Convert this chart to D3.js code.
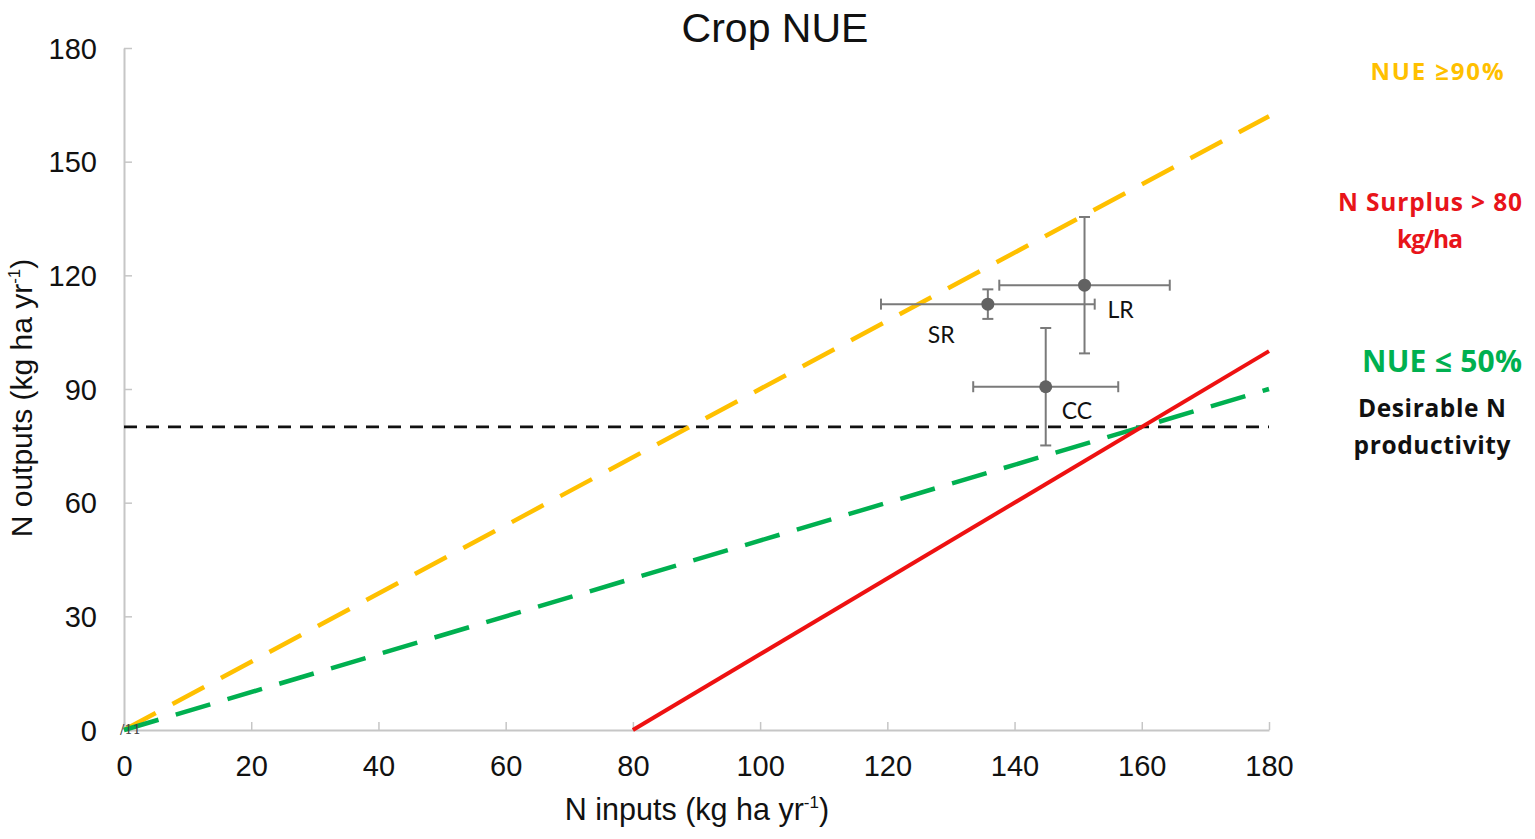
<!DOCTYPE html>
<html><head><meta charset="utf-8">
<script src="https://cdn.jsdelivr.net/npm/d3@7/dist/d3.min.js"></script>
<style>body{margin:0;background:#fff}svg{display:block}</style>
</head><body>
<svg id="c" width="1535" height="839"></svg>
<script>
// ---- data ----
const xTicks = [0,20,40,60,80,100,120,140,160,180];
const yTicks = [0,30,60,90,120,150,180];
const nueHigh = [[0,0],[180,162]];          // NUE >= 90%
const nueLow = [[0,0],[180,90]];            // NUE <= 50%
const surplus = [[80,0],[180,100]];         // N surplus > 80
const desirable = [[0,80],[180,80]];        // desirable N productivity
const pointNames = ["SR","LR","CC"];
const pointX = [135.8,151.0,144.9];
const pointY = [112.4,117.4,90.6];
const pointXErr = [16.8,13.4,11.4];
const pointYErr = [3.9,18.0,15.5];
const labelDx = [-60,23,16];
const labelDy = [39,33,32];
const noteLines = [
  {text:["NUE \u226590%"], color:"#ffc000", size:24, widths:[133]},
  {text:["N Surplus > 80","kg/ha"], color:"#e8141a", size:24.5, widths:[184,66]},
  {text:["NUE \u2264 50%"], color:"#00b050", size:30, widths:[160]},
  {text:["Desirable N","productivity"], color:"#111", size:24.5, widths:[148,157]}
];

// ---- layout ----
const svg = d3.select("#c");
const L=124,R=1269,T=48,B=730;
const x = d3.scaleLinear().domain([0,180]).range([L,R]);
const y = d3.scaleLinear().domain([0,180]).range([B,T]);
const axisColor = "#c6c6c6";
const font = "'Liberation Sans', Arial, sans-serif";
const noteFont = "'Open Sans', Lato, sans-serif";

// axes
const xa = svg.append("g").attr("transform",`translate(0,${B})`)
  .call(d3.axisBottom(x).tickValues(xTicks).tickSizeInner(-8).tickSizeOuter(0).tickPadding(25));
const ya = svg.append("g").attr("transform",`translate(${L},0)`)
  .call(d3.axisLeft(y).tickValues(yTicks).tickSizeInner(-8).tickSizeOuter(0).tickPadding(27));
[xa,ya].forEach(a=>{
  a.select(".domain").attr("stroke",axisColor).attr("stroke-width",2);
  a.selectAll(".tick line").attr("stroke",axisColor).attr("stroke-width",1.5);
  a.selectAll(".tick text").attr("font-family",font).attr("font-size",29).attr("fill","#111");
});
xa.selectAll(".tick text").attr("dy","0.71em");
ya.selectAll(".tick text").attr("dy","0.35em");

const line = d3.line().x(d=>x(d[0])).y(d=>y(d[1]));
svg.append("path").datum(desirable).attr("d",line).attr("fill","none")
  .attr("stroke","#111").attr("stroke-width",2.8).attr("stroke-dasharray","13,9");
svg.append("path").datum(nueHigh).attr("d",line).attr("fill","none")
  .attr("stroke","#ffc000").attr("stroke-width",4.5).attr("stroke-dasharray","36,19");
svg.append("path").datum(nueLow).attr("d",line).attr("fill","none")
  .attr("stroke","#00b050").attr("stroke-width",4.5).attr("stroke-dasharray","36,18");
svg.append("path").datum(surplus).attr("d",line).attr("fill","none")
  .attr("stroke","#ee1111").attr("stroke-width",4);

// tiny origin artefact
svg.append("text").attr("x",x(0)-4).attr("y",B+4).attr("font-family","'DejaVu Serif',serif")
  .attr("font-size",13).attr("fill","#444").text("/\u0031\u0031");

// error bars + points
const eb = "#7a7a7a", cap=5.5;
pointNames.forEach((n,i)=>{
  const g = svg.append("g");
  const cx=x(pointX[i]), cy=y(pointY[i]);
  const x0=x(pointX[i]-pointXErr[i]), x1=x(pointX[i]+pointXErr[i]);
  const y0=y(pointY[i]-pointYErr[i]), y1=y(pointY[i]+pointYErr[i]);
  g.append("line").attr("x1",x0).attr("x2",x1).attr("y1",cy).attr("y2",cy).attr("stroke",eb).attr("stroke-width",2);
  g.append("line").attr("x1",cx).attr("x2",cx).attr("y1",y0).attr("y2",y1).attr("stroke",eb).attr("stroke-width",2);
  [x0,x1].forEach(v=>g.append("line").attr("x1",v).attr("x2",v).attr("y1",cy-cap).attr("y2",cy+cap).attr("stroke",eb).attr("stroke-width",2));
  [y0,y1].forEach(v=>g.append("line").attr("x1",cx-cap).attr("x2",cx+cap).attr("y1",v).attr("y2",v).attr("stroke",eb).attr("stroke-width",2));
  g.append("circle").attr("cx",cx).attr("cy",cy).attr("r",6.5).attr("fill","#626262");
  g.append("text").attr("x",cx+labelDx[i]).attr("y",cy+labelDy[i]).attr("font-family","Lato, 'Open Sans', sans-serif")
    .attr("font-size",23).attr("fill","#111").text(n);
});

// title
svg.append("text").attr("x",775).attr("y",42).attr("text-anchor","middle")
  .attr("font-family",font).attr("font-size",41).attr("fill","#111").text("Crop NUE");

// axis titles
const xt = svg.append("text").attr("x",697).attr("y",820).attr("text-anchor","middle")
  .attr("font-family",font).attr("font-size",30.5).attr("fill","#111");
xt.append("tspan").text("N inputs (kg ha yr");
xt.append("tspan").attr("font-size",17).attr("dy",-12).text("-1");
xt.append("tspan").attr("dy",12).text(")");
const yt = svg.append("text").attr("transform","translate(32,398) rotate(-90)").attr("text-anchor","middle")
  .attr("font-family",font).attr("font-size",30).attr("fill","#111");
yt.append("tspan").text("N outputs (kg ha yr");
yt.append("tspan").attr("font-size",17).attr("dy",-12).text("-1");
yt.append("tspan").attr("dy",12).text(")");

// right-hand notes
const notePos = [[1437,80],[1430,211],[1442,372],[1432,417]];
noteLines.forEach((nl,i)=>{
  nl.text.forEach((s,j)=>{
    svg.append("text").attr("x",notePos[i][0]).attr("y",notePos[i][1]+j*nl.size*1.5)
      .attr("text-anchor","middle")
      .attr("font-family",noteFont).attr("font-weight","bold")
      .attr("font-size",nl.size).attr("fill",nl.color)
      .attr("textLength",nl.widths[j]).attr("lengthAdjust","spacing").text(s);
  });
});
</script>
</body></html>
